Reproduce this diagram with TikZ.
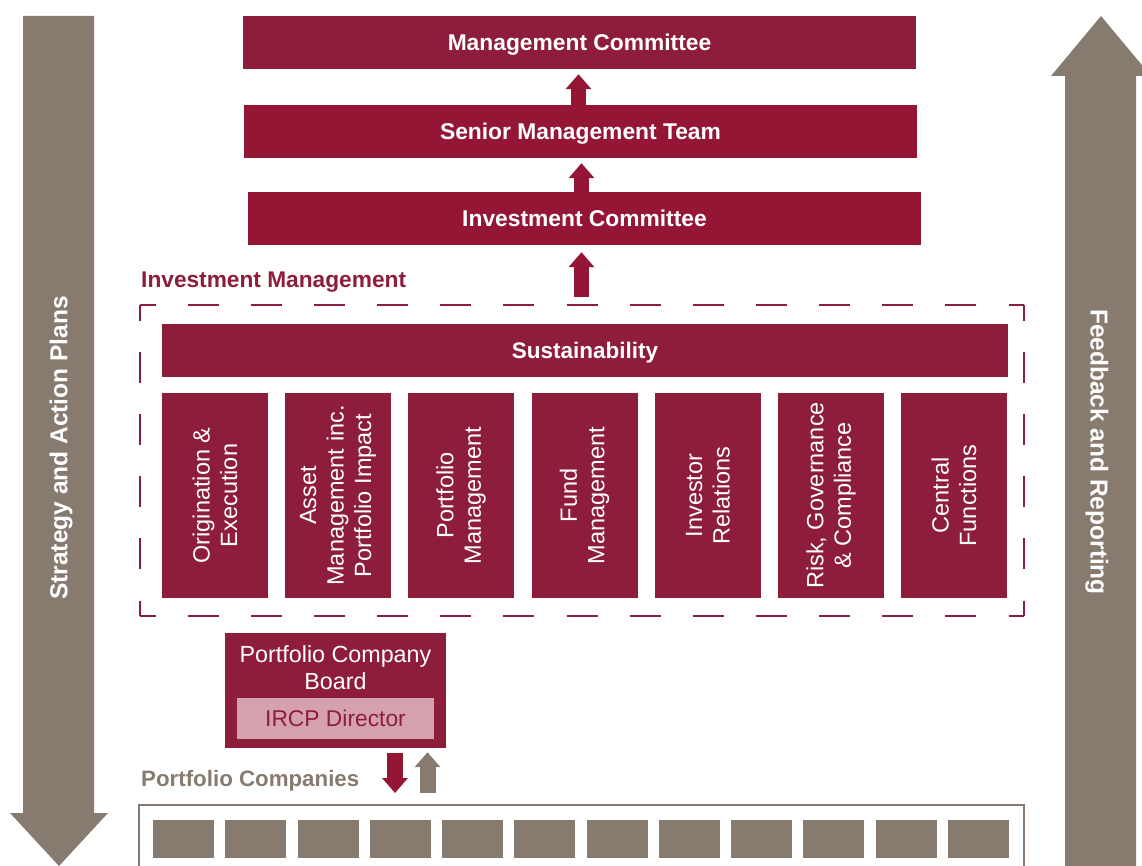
\documentclass[tikz,border=0pt]{standalone}
\usepackage{fontspec}
\setmainfont{Liberation Sans}
\usetikzlibrary{arrows.meta,calc}
\definecolor{crimA}{HTML}{8E1D3B}
\definecolor{crimB}{HTML}{941634}
\definecolor{taupe}{HTML}{877B70}
\definecolor{pinkbox}{HTML}{D4A1AC}
\begin{document}
\begin{tikzpicture}[x=1pt,y=-1pt,
  titlebar/.style={fill=#1, draw=none, inner sep=0pt, minimum width=673pt, minimum height=53pt,
    text=white, font=\fontsize{22.8}{27}\selectfont\bfseries, text depth=1pt},
  colbox/.style={fill=crimA, draw=none, inner sep=0pt, rotate=90, minimum width=205pt, minimum height=106pt,
    text=white, align=center, font=\fontsize{23.5}{27.5}\selectfont},
  pcbox/.style={fill=taupe, draw=none, inner sep=0pt, minimum width=61pt, minimum height=38pt},
  sidetext/.style={text=white, font=\fontsize{24.5}{29}\selectfont\bfseries, inner sep=0pt},
  dashbox/.style={draw=crimA, line width=2pt},
  flow/.style={line width=15pt, draw=#1, -{Triangle[width=25pt,length=15pt,fill=#1]}},
]
\useasboundingbox (0,0) rectangle (1142,866);

% side arrows
\fill[taupe] (23,16) -- (94,16) -- (94,813) -- (108,813) -- (59,866) -- (10,813) -- (23,813) -- cycle;
\fill[taupe] (1065,866) -- (1065,76) -- (1051,76) -- (1101,16) -- (1151,76) -- (1136,76) -- (1136,866) -- cycle;
\node[sidetext, rotate=90] (strat) at (61,448) {Strategy and Action Plans};
\node[sidetext, rotate=-90] (feed) at (1097,452) {Feedback and Reporting};

% top boxes
\node[titlebar=crimA] (mc) at (579.5,42.5) {Management Committee};
\node[titlebar=crimB] (smt) at (580.5,131.5) {Senior Management Team};
\node[titlebar=crimB] (ic) at (584.5,218.5) {Investment Committee};

\draw[flow=crimB, shorten >=5pt] (smt.north -| 578.5,0) -- (mc.south -| 578.5,0);
\draw[flow=crimB, shorten >=5pt] (ic.north -| 581.5,0) -- (smt.south -| 581.5,0);
\coordinate (imtop) at (581.5,297);
\draw[flow=crimB, shorten >=7pt] (imtop) -- (ic.south -| imtop);

% investment management
\node[anchor=west, text=crimA, font=\fontsize{22.7}{27}\selectfont\bfseries, inner sep=0pt] (imlabel) at (141,282) {Investment Management};
\draw[dashbox, dash pattern=on 31pt off 32.143pt, dash phase=15.5pt] (140,305) -- (1024,305);
\draw[dashbox, dash pattern=on 31pt off 32.143pt, dash phase=15.5pt] (140,616) -- (1024,616);
\draw[dashbox, dash pattern=on 31pt off 31.2pt, dash phase=15.5pt] (140,305) -- (140,616);
\draw[dashbox, dash pattern=on 31pt off 31.2pt, dash phase=15.5pt] (1024,305) -- (1024,616);

\node[fill=crimA, inner sep=0pt, minimum width=846pt, minimum height=53pt, text=white, text depth=1pt,
  font=\fontsize{22.5}{27}\selectfont\bfseries] (sus) at (585,350.5) {Sustainability};

\node[colbox] (c1) at (215,495.5) {Origination \&\\Execution};
\node[colbox] (c2) at (338,495.5) {Asset\\Management inc.\\Portfolio Impact};
\node[colbox] (c3) at (461,495.5) {Portfolio\\Management};
\node[colbox] (c4) at (584.5,495.5) {Fund\\Management};
\node[colbox] (c5) at (708,495.5) {Investor\\Relations};
\node[colbox] (c6) at (831,495.5) {Risk, Governance\\\& Compliance};
\node[colbox] (c7) at (954,495.5) {Central\\Functions};

% portfolio company board
\node[fill=crimA, inner sep=0pt, minimum width=221pt, minimum height=115pt] (pcb) at (335.5,690.5) {};
\node[text=white, align=center, inner sep=0pt, font=\fontsize{23.3}{27}\selectfont] (pcbtext) at (335.5,667.5) {Portfolio Company\\Board};
\node[fill=pinkbox, inner sep=0pt, minimum width=197pt, minimum height=41pt, text=crimA, text depth=1pt,
  font=\fontsize{22.8}{27}\selectfont] (ircp) at (335.5,718.5) {IRCP Director};

% portfolio companies
\node[anchor=west, text=taupe, font=\fontsize{22.3}{27}\selectfont\bfseries, inner sep=0pt] (pclabel) at (141,781) {Portfolio Companies};
\coordinate (pctop) at (581,805);
\draw[taupe, line width=2pt] (139,866) -- (139,805) -- (1024,805) -- (1024,866);
\foreach \i in {0,...,11} {
  \node[pcbox] (pc\i) at ({183.5+\i*72.27},839) {};
}

\coordinate (dnx) at (395,0);
\coordinate (upx) at (427.5,0);
\draw[flow=crimB, line width=16pt, -{Triangle[width=25pt,length=15pt,fill=crimB]}, shorten <=5pt, shorten >=12pt]
  (pcb.south -| dnx) -- (pctop -| dnx);
\draw[flow=taupe, line width=16pt, -{Triangle[width=25pt,length=15pt,fill=taupe]}, shorten <=12pt, shorten >=4pt]
  (pctop -| upx) -- (pcb.south -| upx);
\end{tikzpicture}
\end{document}
